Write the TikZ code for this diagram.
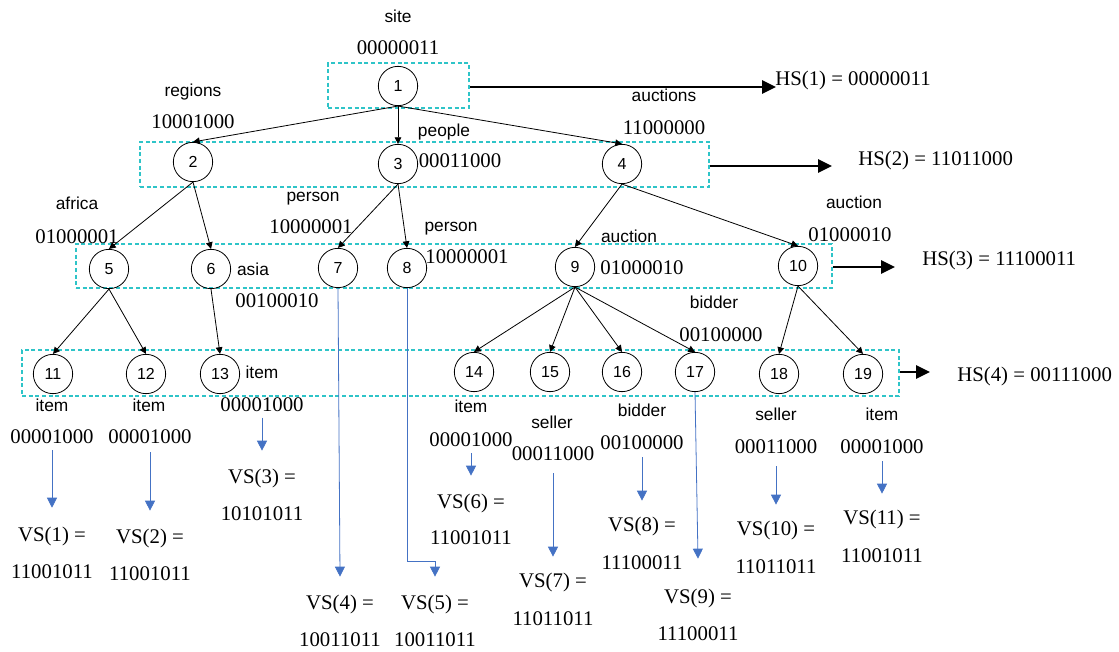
\documentclass[tikz,border=0pt]{standalone}
\usepackage{fontspec}
\setmainfont{Liberation Serif}
\setsansfont{Liberation Sans}
\usetikzlibrary{arrows.meta}
\definecolor{levelcyan}{RGB}{46,196,200}
\definecolor{vsblue}{RGB}{68,114,196}
\begin{document}
\begin{tikzpicture}[x=0.75pt,y=-0.75pt,
  vtx/.style={circle,draw,line width=0.6pt,minimum size=29.5pt,inner sep=0pt,
    font=\sffamily\fontsize{12}{14}\selectfont},
  tag/.style={inner sep=0pt,text height=9.3pt,text depth=0pt,
    font=\sffamily\fontsize{13}{15}\selectfont},
  code/.style={inner sep=0pt,text height=10.3pt,text depth=0pt,
    font=\fontsize{15.6}{18}\selectfont},
  level/.style={draw=levelcyan,line width=1.4pt,dash pattern=on 3pt off 2pt,inner sep=0pt},
  edge/.style={-{Triangle[length=5pt,width=5pt]},line width=0.6pt},
  hs/.style={-{Triangle[length=10.5pt,width=10pt]},line width=1.5pt},
  vs/.style={-{Triangle[length=7.5pt,width=7.5pt]},draw=vsblue,line width=0.6pt}
]
\useasboundingbox (0,0) rectangle (1119,652);

% level boxes
\node[level,minimum width=105.75pt,minimum height=33.75pt] (L1) at (398.5,85.5) {};
\node[level,minimum width=426.75pt,minimum height=33.75pt] (L2) at (424.5,164.5) {};
\node[level,minimum width=567pt,minimum height=33pt] (L3) at (454,266) {};
\node[level,minimum width=657.75pt,minimum height=34.5pt] (L4) at (460.5,373) {};

% tree vertices
\node[vtx] (n1) at (398,86) {1};
\node[vtx] (n2) at (193,162) {2};
\node[vtx] (n3) at (398,164) {3};
\node[vtx] (n4) at (622,164) {4};
\node[vtx] (n5) at (109,269) {5};
\node[vtx] (n6) at (211,269) {6};
\node[vtx] (n7) at (338,268) {7};
\node[vtx] (n8) at (407,268) {8};
\node[vtx] (n9) at (575,267) {9};
\node[vtx] (n10) at (798,266) {10};
\node[vtx] (n11) at (53,374) {11};
\node[vtx] (n12) at (146,374) {12};
\node[vtx] (n13) at (220,374) {13};
\node[vtx] (n14) at (474,372) {14};
\node[vtx] (n15) at (550,372) {15};
\node[vtx] (n16) at (622,372) {16};
\node[vtx] (n17) at (695,372) {17};
\node[vtx] (n18) at (779,374) {18};
\node[vtx] (n19) at (863,374) {19};

\foreach \p/\c in {n1/n2,n1/n3,n1/n4,n2/n5,n2/n6,n3/n7,n3/n8,n4/n9,n4/n10,
  n5/n11,n5/n12,n6/n13,n9/n14,n9/n15,n9/n16,n9/n17,n10/n18,n10/n19}
  \draw[edge] (\p.south) -- (\c.north);

% element names and their codes
\node[tag] (t1) at (398,16) {site};
\node[code] (c1) at (398,48) {00000011};
\node[tag] (t2) at (193,90) {regions};
\node[code] (c2) at (193,122) {10001000};
\node[tag] (t3) at (444,130) {people};
\node[code] (c3) at (460,161) {00011000};
\node[tag] (t4) at (664,95) {auctions};
\node[code] (c4) at (664,128) {11000000};
\node[tag] (t5) at (77,203) {africa};
\node[code] (c5) at (77,237) {01000001};
\node[tag] (t6) at (253,269) {asia};
\node[code] (c6) at (277,301) {00100010};
\node[tag] (t7) at (313,195) {person};
\node[code] (c7) at (311,227) {10000001};
\node[tag] (t8) at (451,225) {person};
\node[code] (c8) at (467,257) {10000001};
\node[tag] (t9) at (629,236) {auction};
\node[code] (c9) at (642,268) {01000010};
\node[tag] (t10) at (854,202) {auction};
\node[code] (c10) at (850,235) {01000010};
\node[tag] (t17) at (714,302) {bidder};
\node[code] (c17) at (721,335) {00100000};
\node[tag] (t13) at (262,372) {item};
\node[code] (c13) at (262,405) {00001000};
\node[tag] (t11) at (52,405) {item};
\node[code] (c11) at (52,437) {00001000};
\node[tag] (t12) at (149,405) {item};
\node[code] (c12) at (150,437) {00001000};
\node[tag] (t14) at (471,406) {item};
\node[code] (c14) at (471,440) {00001000};
\node[tag] (t15) at (552,422) {seller};
\node[code] (c15) at (553,454) {00011000};
\node[tag] (t16) at (642,410) {bidder};
\node[code] (c16) at (642,443) {00100000};
\node[tag] (t18) at (776,414) {seller};
\node[code] (c18) at (776,447) {00011000};
\node[tag] (t19) at (882,414) {item};
\node[code] (c19) at (882,447) {00001000};

% horizontal signatures
\node[code,anchor=west] (hs1) at (775,79) {HS(1) = 00000011};
\node[code,anchor=west] (hs2) at (858,159) {HS(2) = 11011000};
\node[code,anchor=west] (hs3) at (922,259) {HS(3) = 11100011};
\node[code,anchor=west] (hs4) at (957,375) {HS(4) = 00111000};
\coordinate (h1) at (776,87);
\coordinate (h2) at (832,166);
\coordinate (h3) at (895,267);
\coordinate (h4) at (930,372);
\draw[hs] (L1.east |- h1) -- (h1);
\draw[hs] (L2.east |- h2) -- (h2);
\draw[hs] (L3.east |- h3) -- (h3);
\draw[hs] (L4.east |- h4) -- (h4);

% vertical signatures
\node[code] (v1) at (52,535) {VS(1) =};
\node[code] (r1) at (52,572) {11001011};
\node[code] (v2) at (150,537) {VS(2) =};
\node[code] (r2) at (150,574) {11001011};
\node[code] (v3) at (262,477) {VS(3) =};
\node[code] (r3) at (262,514) {10101011};
\node[code] (v4) at (340,603) {VS(4) =};
\node[code] (r4) at (340,640) {10011011};
\node[code] (v5) at (435,603) {VS(5) =};
\node[code] (r5) at (435,640) {10011011};
\node[code] (v6) at (471,502) {VS(6) =};
\node[code] (r6) at (471,538) {11001011};
\node[code] (v7) at (553,581) {VS(7) =};
\node[code] (r7) at (553,619) {11011011};
\node[code] (v8) at (642,525) {VS(8) =};
\node[code] (r8) at (642,563) {11100011};
\node[code] (v9) at (698,597) {VS(9) =};
\node[code] (r9) at (698,634) {11100011};
\node[code] (v10) at (776,529) {VS(10) =};
\node[code] (r10) at (776,567) {11011011};
\node[code] (v11) at (882,518) {VS(11) =};
\node[code] (r11) at (882,556) {11001011};

\draw[vs] ([yshift=-4.6pt]c11.south) -- ([yshift=15.1pt]v1.north);
\draw[vs] ([yshift=-6.1pt]c12.south) -- ([yshift=14.4pt]v2.north);
\draw[vs] ([yshift=-4.2pt]c13.south) -- ([yshift=14.4pt]v3.north);
\draw[vs] (n7.south) -- ([yshift=14.4pt]v4.north);
\coordinate (j5) at (435,561);
\draw[vs] (n8.south) |- (j5) -- ([yshift=14.4pt]v5.north);
\draw[vs] ([yshift=-4.6pt]c14.south) -- ([yshift=14.4pt]v6.north);
\draw[vs] ([yshift=-9.1pt]c15.south) -- ([yshift=12.9pt]v7.north);
\draw[vs] ([yshift=-5.4pt]c16.south) -- ([yshift=12.9pt]v8.north);
\draw[vs] (n17.south) -- ([yshift=23.4pt]v9.north);
\draw[vs] ([yshift=-9.1pt]c18.south) -- ([yshift=12.9pt]v10.north);
\draw[vs] ([yshift=-5.4pt]c19.south) -- ([yshift=12.9pt]v11.north);
\end{tikzpicture}
\end{document}
